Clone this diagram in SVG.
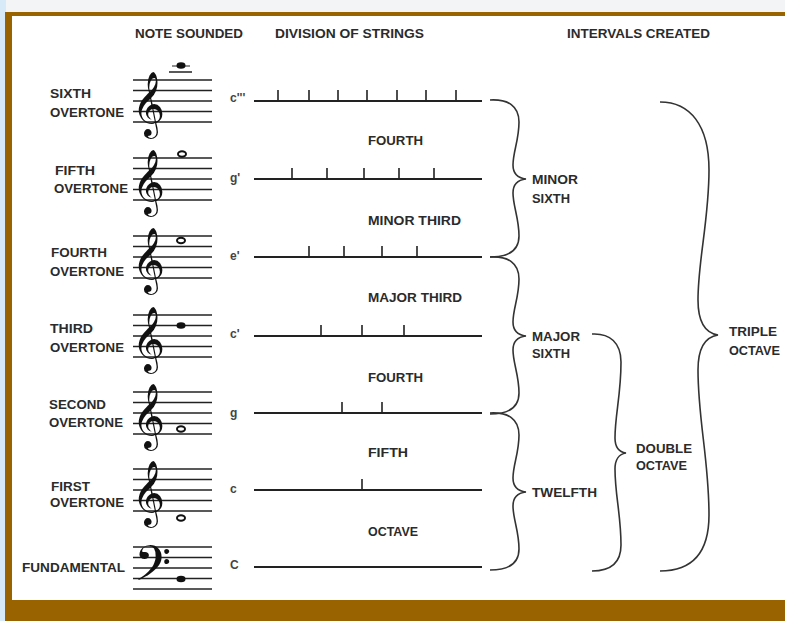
<svg xmlns="http://www.w3.org/2000/svg" width="785" height="621" viewBox="0 0 785 621">
<style>
.t{font-family:"Liberation Sans",Arial,sans-serif;font-weight:700;font-size:13px;fill:#2b2b2b}
.n{font-family:"Liberation Sans",Arial,sans-serif;font-weight:700;font-size:12px;fill:#444}
.clef{font-family:"DejaVu Sans","Noto Sans",sans-serif;font-size:56px;fill:#111}
.bclef{font-family:"DejaVu Sans","Noto Sans",sans-serif;font-size:58px;fill:#111}
.str{stroke:#222;stroke-width:2;fill:none}
.tick{stroke:#222;stroke-width:1.6}
.staff line{stroke:#222;stroke-width:1.3}
.brace{stroke:#333;stroke-width:1.6;fill:none}
.open{fill:none;stroke:#111;stroke-width:2}
.fill{fill:#111}
</style>
<defs>
<g id="staff" class="staff">
<line x1="133" y1="-21" x2="212" y2="-21"/>
<line x1="133" y1="-10.5" x2="212" y2="-10.5"/>
<line x1="133" y1="0" x2="212" y2="0"/>
<line x1="133" y1="10.5" x2="212" y2="10.5"/>
<line x1="133" y1="21" x2="212" y2="21"/>
</g>
<path id="brace1" class="brace" d="M490,100 C508,99 519,106 519,122 C519,140 513,152 513,165 C513,173 517,178 526,179 C517,180 513,185 513,193 C513,206 519,218 519,236 C519,251 508,257 490,257"/>
</defs>
<rect x="0" y="0" width="785" height="621" fill="#f3f4f5"/>
<rect x="0" y="0" width="6" height="621" fill="#d6ebf7"/>
<rect x="5" y="12" width="780" height="609" fill="#996300"/>
<rect x="12" y="16" width="773" height="584" fill="#ffffff"/>

<g id="headers">
<text class="t" x="135" y="38" textLength="108" lengthAdjust="spacingAndGlyphs">NOTE SOUNDED</text>
<text class="t" x="275" y="38" textLength="149" lengthAdjust="spacingAndGlyphs">DIVISION OF STRINGS</text>
<text class="t" x="567" y="38" textLength="143" lengthAdjust="spacingAndGlyphs">INTERVALS CREATED</text>
</g>

<g id="row-sixth">
<text class="t" x="50" y="98" textLength="41" lengthAdjust="spacingAndGlyphs">SIXTH</text>
<text class="t" x="50" y="117" textLength="74" lengthAdjust="spacingAndGlyphs">OVERTONE</text>
<use href="#staff" transform="translate(0,101)"/>
<text class="clef" x="132" y="123">𝄞</text>
<line x1="169" y1="72" x2="192" y2="72" stroke="#222" stroke-width="1.5"/>
<line x1="172" y1="66" x2="190" y2="66" stroke="#222" stroke-width="1"/>
<ellipse class="fill" cx="181" cy="65.5" rx="4.5" ry="3.3"/>
<text class="n" x="230" y="102">c'''</text>
<line class="str" x1="254" y1="101" x2="482" y2="101"/>
<path class="tick" d="M278,90V101M309,90V101M338,90V101M367,90V101M397,90V101M426,90V101M456,90V101"/>
</g>

<g id="row-fifth">
<text class="t" x="55" y="175" textLength="40" lengthAdjust="spacingAndGlyphs">FIFTH</text>
<text class="t" x="54" y="193" textLength="74" lengthAdjust="spacingAndGlyphs">OVERTONE</text>
<use href="#staff" transform="translate(0,179)"/>
<text class="clef" x="132" y="201">𝄞</text>
<ellipse class="open" cx="182" cy="154" rx="4" ry="2.7"/>
<text class="n" x="230" y="182">g'</text>
<line class="str" x1="254" y1="179" x2="482" y2="179"/>
<path class="tick" d="M292,168V179M327,168V179M364,168V179M399,168V179M434,168V179"/>
</g>

<g id="row-fourth">
<text class="t" x="51" y="257" textLength="56" lengthAdjust="spacingAndGlyphs">FOURTH</text>
<text class="t" x="50" y="276" textLength="74" lengthAdjust="spacingAndGlyphs">OVERTONE</text>
<use href="#staff" transform="translate(0,257)"/>
<text class="clef" x="132" y="279">𝄞</text>
<ellipse class="open" cx="181" cy="240.5" rx="4" ry="2.7"/>
<text class="n" x="230" y="260">e'</text>
<line class="str" x1="254" y1="257" x2="482" y2="257"/>
<path class="tick" d="M309,246V257M344,246V257M382,246V257M417,246V257"/>
</g>

<g id="row-third">
<text class="t" x="50" y="333" textLength="43" lengthAdjust="spacingAndGlyphs">THIRD</text>
<text class="t" x="50" y="352" textLength="74" lengthAdjust="spacingAndGlyphs">OVERTONE</text>
<use href="#staff" transform="translate(0,336)"/>
<text class="clef" x="132" y="358">𝄞</text>
<ellipse class="fill" cx="181" cy="325.5" rx="4.5" ry="3.3"/>
<text class="n" x="230" y="338">c'</text>
<line class="str" x1="254" y1="336" x2="482" y2="336"/>
<path class="tick" d="M321,325V336M362,325V336M404,325V336"/>
</g>

<g id="row-second">
<text class="t" x="49" y="409" textLength="57" lengthAdjust="spacingAndGlyphs">SECOND</text>
<text class="t" x="49" y="427" textLength="74" lengthAdjust="spacingAndGlyphs">OVERTONE</text>
<use href="#staff" transform="translate(0,413)"/>
<text class="clef" x="132" y="435">𝄞</text>
<ellipse class="open" cx="181" cy="429" rx="4" ry="2.7"/>
<text class="n" x="230" y="417">g</text>
<line class="str" x1="254" y1="413" x2="482" y2="413"/>
<path class="tick" d="M342,402V413M382,402V413"/>
</g>

<g id="row-first">
<text class="t" x="51" y="491" textLength="39" lengthAdjust="spacingAndGlyphs">FIRST</text>
<text class="t" x="50" y="507" textLength="74" lengthAdjust="spacingAndGlyphs">OVERTONE</text>
<use href="#staff" transform="translate(0,490)"/>
<text class="clef" x="132" y="512">𝄞</text>
<ellipse class="open" cx="181" cy="518" rx="4" ry="2.7"/>
<text class="n" x="230" y="493">c</text>
<line class="str" x1="254" y1="490" x2="482" y2="490"/>
<path class="tick" d="M362,479V490"/>
</g>

<g id="row-fundamental">
<text class="t" x="22" y="572" textLength="103" lengthAdjust="spacingAndGlyphs">FUNDAMENTAL</text>
<use href="#staff" transform="translate(0,568)"/>
<text class="bclef" x="134" y="589">𝄢</text>
<ellipse class="fill" cx="181" cy="579" rx="4.5" ry="3.3"/>
<text class="n" x="230" y="569">C</text>
<line class="str" x1="254" y1="567" x2="482" y2="567"/>
</g>

<g id="string-intervals">
<text class="t" x="368" y="145" textLength="55" lengthAdjust="spacingAndGlyphs">FOURTH</text>
<text class="t" x="368" y="225" textLength="93" lengthAdjust="spacingAndGlyphs">MINOR THIRD</text>
<text class="t" x="368" y="302" textLength="94" lengthAdjust="spacingAndGlyphs">MAJOR THIRD</text>
<text class="t" x="368" y="382" textLength="55" lengthAdjust="spacingAndGlyphs">FOURTH</text>
<text class="t" x="368" y="457" textLength="40" lengthAdjust="spacingAndGlyphs">FIFTH</text>
<text class="t" x="368" y="536" textLength="50" lengthAdjust="spacingAndGlyphs">OCTAVE</text>
</g>

<g id="connectors">
<use href="#brace1"/>
<use href="#brace1" transform="translate(0,157)"/>
<use href="#brace1" transform="translate(0,313)"/>
<path class="brace" d="M592,334 C610,333 621,343 621,362 C621,395 615,415 615,438 C615,447 619,452 626,453 C619,454 615,460 615,469 C615,495 621,515 621,545 C621,563 610,571 592,571"/>
<path class="brace" d="M660,102 C690,102 709,125 709,170 C709,220 698,260 698,300 C698,322 705,333 718,335 C705,337 698,348 698,370 C698,420 709,460 709,515 C709,555 690,571 660,571"/>
</g>

<g id="interval-minor-sixth">
<text class="t" x="532" y="184" textLength="46" lengthAdjust="spacingAndGlyphs">MINOR</text>
<text class="t" x="532" y="203" textLength="38" lengthAdjust="spacingAndGlyphs">SIXTH</text>
</g>
<g id="interval-major-sixth">
<text class="t" x="532" y="341" textLength="48" lengthAdjust="spacingAndGlyphs">MAJOR</text>
<text class="t" x="532" y="358" textLength="38" lengthAdjust="spacingAndGlyphs">SIXTH</text>
</g>
<g id="interval-twelfth">
<text class="t" x="532" y="497" textLength="65" lengthAdjust="spacingAndGlyphs">TWELFTH</text>
</g>
<g id="interval-double-octave">
<text class="t" x="636" y="453" textLength="56" lengthAdjust="spacingAndGlyphs">DOUBLE</text>
<text class="t" x="636" y="470" textLength="51" lengthAdjust="spacingAndGlyphs">OCTAVE</text>
</g>
<g id="interval-triple-octave">
<text class="t" x="729" y="336" textLength="48" lengthAdjust="spacingAndGlyphs">TRIPLE</text>
<text class="t" x="729" y="355" textLength="51" lengthAdjust="spacingAndGlyphs">OCTAVE</text>
</g>
</svg>
